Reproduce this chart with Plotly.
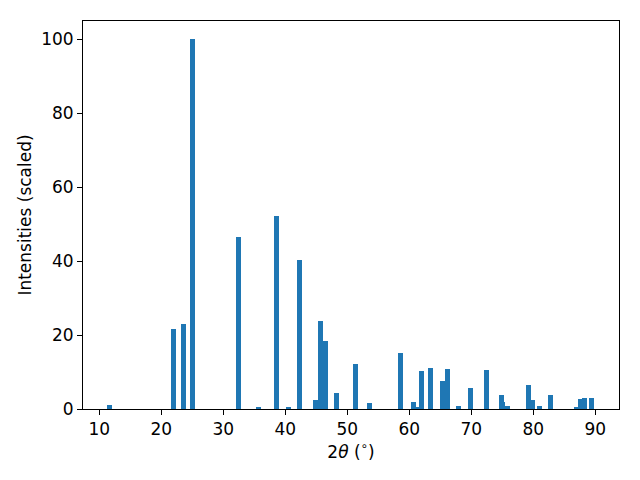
import plotly.graph_objects as go

two_theta = [11.65, 21.97, 23.58, 25.03, 32.45, 35.68, 38.58, 40.52, 42.29, 44.87,
             45.68, 46.48, 48.26, 51.32, 53.58, 58.58, 60.68, 61.16, 61.97, 63.42,
             65.35, 66.16, 67.94, 69.87, 72.45, 74.87, 75.03, 75.84, 79.23, 79.87,
             81.0, 82.77, 86.97, 87.53, 88.26, 89.39]
intensity = [1.1, 21.7, 23.0, 100.0, 46.6, 0.5, 52.3, 0.3, 40.4, 2.4,
             23.8, 18.4, 4.3, 12.2, 1.6, 15.2, 1.9, 0.5, 10.3, 11.1,
             7.6, 10.8, 0.8, 5.7, 10.6, 3.8, 1.9, 0.8, 6.5, 2.4,
             0.8, 3.8, 0.5, 2.7, 3.0, 3.0]

x_ticks = [10, 20, 30, 40, 50, 60, 70, 80, 90]
y_ticks = [0, 20, 40, 60, 80, 100]

fig = go.Figure(go.Bar(x=two_theta, y=intensity, width=0.8,
                       marker=dict(color="#1f77b4", line=dict(width=0))))

axis_common = dict(showgrid=False, zeroline=False, showline=True, linecolor="black",
                   linewidth=1, mirror=True, ticks="outside", ticklen=5, tickwidth=1,
                   tickcolor="black", tickfont=dict(size=17, color="black"))

fig.update_layout(
    width=640, height=480,
    margin=dict(l=83, r=21, t=21, b=71, autoexpand=False),
    paper_bgcolor="white", plot_bgcolor="white",
    font=dict(family="DejaVu Sans", color="black"),
    bargap=0, showlegend=False,
    xaxis=dict(range=[7.37, 93.82], tickvals=x_ticks,
               title=dict(text="2<i>θ</i> (<sup>∘</sup>)", font=dict(size=17), standoff=6),
               **axis_common),
    yaxis=dict(range=[0, 105], tickvals=y_ticks,
               title=dict(text="Intensities (scaled)", font=dict(size=17), standoff=5),
               **axis_common),
)

fig.write_html("out.html", config={"displayModeBar": False},
               post_script="document.body.style.margin='0';")
